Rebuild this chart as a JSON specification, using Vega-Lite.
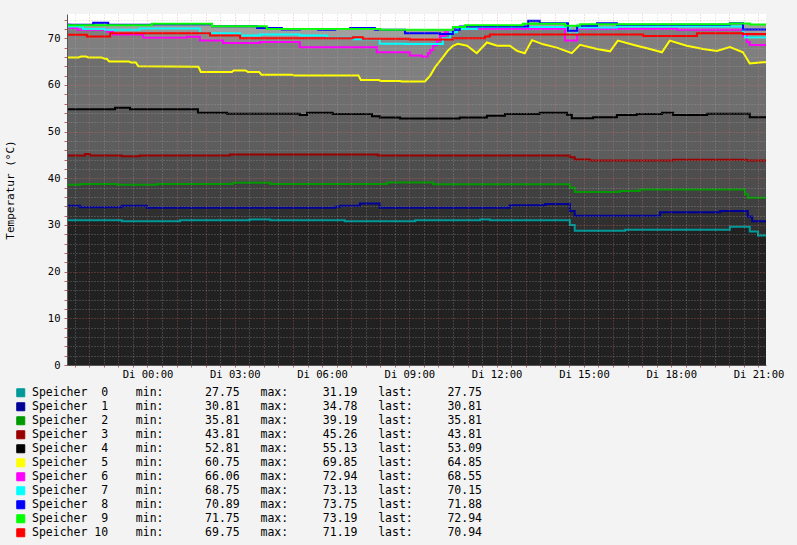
{
"$schema": "https://vega.github.io/schema/vega-lite/v6.json",
"width": 699, "height": 351,
"autosize": {"type": "none"},
"padding": {"left": 67, "top": 14, "right": 31, "bottom": 180},
"background": "#f3f3f3",
"config": {"view": {"fill": "#ffffff", "stroke": null}, "font": "DejaVu Sans Mono"},
"title": {"text": "RRDTOOL / TOBI OETIKER", "orient": "right", "anchor": "start", "frame": "group", "offset": 17, "dx": -9, "font": "DejaVu Sans Mono", "fontSize": 8.5, "fontWeight": "normal", "color": "#a8a8a8"},
"data": {"values": [
{"k":0,"t":"2023-01-02T21:14","v":31.0},{"k":0,"t":"2023-01-02T23:07","v":30.8},{"k":0,"t":"2023-01-03T01:07","v":31.0},{"k":0,"t":"2023-01-03T03:31","v":31.19},{"k":0,"t":"2023-01-03T04:13","v":31.0},{"k":0,"t":"2023-01-03T06:47","v":30.8},{"k":0,"t":"2023-01-03T09:12","v":31.0},{"k":0,"t":"2023-01-03T11:26","v":31.19},{"k":0,"t":"2023-01-03T11:46","v":31.0},{"k":0,"t":"2023-01-03T14:31","v":30.0},{"k":0,"t":"2023-01-03T14:41","v":28.75},{"k":0,"t":"2023-01-03T16:25","v":29.0},{"k":0,"t":"2023-01-03T20:01","v":29.6},{"k":0,"t":"2023-01-03T20:42","v":28.6},{"k":0,"t":"2023-01-03T20:59","v":27.75},{"k":0,"t":"2023-01-03T21:15:30","v":27.75},
{"k":1,"t":"2023-01-02T21:14","v":34.1},{"k":1,"t":"2023-01-02T21:41","v":33.8},{"k":1,"t":"2023-01-02T23:07","v":34.1},{"k":1,"t":"2023-01-02T23:59","v":33.7},{"k":1,"t":"2023-01-03T06:27","v":33.9},{"k":1,"t":"2023-01-03T06:37","v":34.1},{"k":1,"t":"2023-01-03T07:18","v":34.6},{"k":1,"t":"2023-01-03T07:59","v":33.7},{"k":1,"t":"2023-01-03T12:27","v":34.2},{"k":1,"t":"2023-01-03T13:40","v":34.5},{"k":1,"t":"2023-01-03T14:31","v":33.0},{"k":1,"t":"2023-01-03T14:41","v":32.0},{"k":1,"t":"2023-01-03T17:37","v":32.7},{"k":1,"t":"2023-01-03T19:41","v":33.0},{"k":1,"t":"2023-01-03T20:38","v":31.8},{"k":1,"t":"2023-01-03T20:47","v":30.81},{"k":1,"t":"2023-01-03T21:15:30","v":30.81},
{"k":2,"t":"2023-01-02T21:14","v":38.6},{"k":2,"t":"2023-01-02T21:41","v":38.8},{"k":2,"t":"2023-01-02T22:57","v":38.6},{"k":2,"t":"2023-01-03T00:20","v":38.8},{"k":2,"t":"2023-01-03T02:56","v":39.05},{"k":2,"t":"2023-01-03T04:13","v":38.8},{"k":2,"t":"2023-01-03T08:14","v":39.1},{"k":2,"t":"2023-01-03T09:49","v":38.7},{"k":2,"t":"2023-01-03T14:31","v":38.0},{"k":2,"t":"2023-01-03T14:41","v":37.05},{"k":2,"t":"2023-01-03T16:14","v":37.3},{"k":2,"t":"2023-01-03T16:55","v":37.6},{"k":2,"t":"2023-01-03T20:32","v":36.6},{"k":2,"t":"2023-01-03T20:38","v":35.81},{"k":2,"t":"2023-01-03T21:15:30","v":35.81},
{"k":3,"t":"2023-01-02T21:14","v":44.9},{"k":3,"t":"2023-01-02T21:51","v":45.2},{"k":3,"t":"2023-01-02T22:01","v":44.9},{"k":3,"t":"2023-01-02T23:07","v":44.7},{"k":3,"t":"2023-01-02T23:44","v":44.9},{"k":3,"t":"2023-01-03T02:50","v":45.1},{"k":3,"t":"2023-01-03T07:55","v":44.9},{"k":3,"t":"2023-01-03T14:31","v":44.5},{"k":3,"t":"2023-01-03T14:41","v":44.05},{"k":3,"t":"2023-01-03T15:12","v":43.81},{"k":3,"t":"2023-01-03T18:04","v":44.0},{"k":3,"t":"2023-01-03T20:36","v":43.81},{"k":3,"t":"2023-01-03T21:15:30","v":43.81},
{"k":4,"t":"2023-01-02T21:14","v":54.8},{"k":4,"t":"2023-01-02T22:53","v":55.1},{"k":4,"t":"2023-01-02T23:24","v":54.8},{"k":4,"t":"2023-01-03T01:44","v":54.05},{"k":4,"t":"2023-01-03T02:44","v":53.85},{"k":4,"t":"2023-01-03T05:14","v":53.55},{"k":4,"t":"2023-01-03T05:29","v":54.05},{"k":4,"t":"2023-01-03T06:22","v":53.8},{"k":4,"t":"2023-01-03T07:43","v":53.3},{"k":4,"t":"2023-01-03T07:59","v":53.0},{"k":4,"t":"2023-01-03T08:41","v":52.81},{"k":4,"t":"2023-01-03T10:44","v":53.0},{"k":4,"t":"2023-01-03T11:40","v":53.4},{"k":4,"t":"2023-01-03T12:17","v":53.8},{"k":4,"t":"2023-01-03T13:29","v":54.05},{"k":4,"t":"2023-01-03T14:25","v":53.6},{"k":4,"t":"2023-01-03T14:35","v":52.85},{"k":4,"t":"2023-01-03T15:19","v":53.1},{"k":4,"t":"2023-01-03T16:08","v":53.55},{"k":4,"t":"2023-01-03T16:49","v":53.8},{"k":4,"t":"2023-01-03T17:41","v":54.05},{"k":4,"t":"2023-01-03T18:04","v":53.55},{"k":4,"t":"2023-01-03T19:14","v":53.85},{"k":4,"t":"2023-01-03T20:42","v":53.09},{"k":4,"t":"2023-01-03T21:15:30","v":53.09},
{"k":5,"t":"2023-01-02T21:14","v":65.9},{"k":5,"t":"2023-01-02T21:38","v":65.9},{"k":5,"t":"2023-01-02T21:43","v":66.1},{"k":5,"t":"2023-01-02T21:53","v":66.1},{"k":5,"t":"2023-01-02T21:58","v":65.9},{"k":5,"t":"2023-01-02T22:25","v":65.9},{"k":5,"t":"2023-01-02T22:32","v":65.6},{"k":5,"t":"2023-01-02T22:36","v":65.6},{"k":5,"t":"2023-01-02T22:41","v":65.0},{"k":5,"t":"2023-01-02T23:22","v":65.0},{"k":5,"t":"2023-01-02T23:26","v":64.8},{"k":5,"t":"2023-01-02T23:36","v":64.8},{"k":5,"t":"2023-01-02T23:41","v":64.0},{"k":5,"t":"2023-01-03T01:45","v":63.9},{"k":5,"t":"2023-01-03T01:50","v":62.8},{"k":5,"t":"2023-01-03T02:54","v":62.8},{"k":5,"t":"2023-01-03T02:58","v":63.1},{"k":5,"t":"2023-01-03T03:22","v":63.1},{"k":5,"t":"2023-01-03T03:27","v":62.8},{"k":5,"t":"2023-01-03T03:50","v":62.8},{"k":5,"t":"2023-01-03T03:55","v":62.2},{"k":5,"t":"2023-01-03T04:58","v":62.2},{"k":5,"t":"2023-01-03T05:03","v":62.0},{"k":5,"t":"2023-01-03T07:15","v":62.0},{"k":5,"t":"2023-01-03T07:20","v":61.05},{"k":5,"t":"2023-01-03T07:57","v":61.05},{"k":5,"t":"2023-01-03T08:01","v":60.85},{"k":5,"t":"2023-01-03T08:40","v":60.85},{"k":5,"t":"2023-01-03T08:45","v":60.75},{"k":5,"t":"2023-01-03T09:32","v":60.75},{"k":5,"t":"2023-01-03T09:43","v":62.0},{"k":5,"t":"2023-01-03T09:53","v":63.8},{"k":5,"t":"2023-01-03T10:09","v":65.9},{"k":5,"t":"2023-01-03T10:19","v":67.3},{"k":5,"t":"2023-01-03T10:30","v":68.4},{"k":5,"t":"2023-01-03T10:40","v":68.8},{"k":5,"t":"2023-01-03T10:59","v":68.4},{"k":5,"t":"2023-01-03T11:19","v":66.8},{"k":5,"t":"2023-01-03T11:40","v":69.1},{"k":5,"t":"2023-01-03T12:01","v":68.4},{"k":5,"t":"2023-01-03T12:27","v":68.4},{"k":5,"t":"2023-01-03T12:42","v":67.3},{"k":5,"t":"2023-01-03T12:58","v":66.8},{"k":5,"t":"2023-01-03T13:13","v":69.6},{"k":5,"t":"2023-01-03T13:36","v":68.7},{"k":5,"t":"2023-01-03T14:04","v":68.0},{"k":5,"t":"2023-01-03T14:35","v":66.8},{"k":5,"t":"2023-01-03T14:52","v":68.6},{"k":5,"t":"2023-01-03T15:27","v":67.7},{"k":5,"t":"2023-01-03T15:54","v":67.2},{"k":5,"t":"2023-01-03T16:10","v":69.5},{"k":5,"t":"2023-01-03T16:49","v":68.4},{"k":5,"t":"2023-01-03T17:16","v":67.7},{"k":5,"t":"2023-01-03T17:41","v":67.0},{"k":5,"t":"2023-01-03T17:57","v":69.5},{"k":5,"t":"2023-01-03T18:32","v":68.4},{"k":5,"t":"2023-01-03T19:06","v":67.7},{"k":5,"t":"2023-01-03T19:34","v":67.3},{"k":5,"t":"2023-01-03T20:01","v":68.1},{"k":5,"t":"2023-01-03T20:28","v":67.0},{"k":5,"t":"2023-01-03T20:42","v":64.6},{"k":5,"t":"2023-01-03T21:09","v":64.85},{"k":5,"t":"2023-01-03T21:15:30","v":64.85},
{"k":6,"t":"2023-01-02T21:14","v":72.9},{"k":6,"t":"2023-01-02T21:20","v":72.2},{"k":6,"t":"2023-01-02T21:35","v":71.8},{"k":6,"t":"2023-01-02T22:36","v":71.4},{"k":6,"t":"2023-01-02T22:49","v":70.8},{"k":6,"t":"2023-01-02T23:51","v":70.1},{"k":6,"t":"2023-01-03T01:21","v":70.3},{"k":6,"t":"2023-01-03T01:48","v":69.5},{"k":6,"t":"2023-01-03T02:36","v":69.0},{"k":6,"t":"2023-01-03T03:52","v":69.2},{"k":6,"t":"2023-01-03T05:14","v":68.1},{"k":6,"t":"2023-01-03T07:53","v":67.0},{"k":6,"t":"2023-01-03T09:01","v":66.3},{"k":6,"t":"2023-01-03T09:26","v":66.06},{"k":6,"t":"2023-01-03T09:38","v":66.8},{"k":6,"t":"2023-01-03T09:43","v":67.5},{"k":6,"t":"2023-01-03T09:49","v":68.5},{"k":6,"t":"2023-01-03T09:57","v":69.5},{"k":6,"t":"2023-01-03T10:03","v":70.5},{"k":6,"t":"2023-01-03T10:13","v":71.3},{"k":6,"t":"2023-01-03T10:30","v":72.0},{"k":6,"t":"2023-01-03T14:21","v":69.5},{"k":6,"t":"2023-01-03T14:46","v":72.0},{"k":6,"t":"2023-01-03T18:12","v":71.8},{"k":6,"t":"2023-01-03T20:28","v":70.5},{"k":6,"t":"2023-01-03T20:36","v":69.2},{"k":6,"t":"2023-01-03T20:42","v":68.55},{"k":6,"t":"2023-01-03T21:15:30","v":68.55},
{"k":7,"t":"2023-01-02T21:14","v":72.5},{"k":7,"t":"2023-01-02T21:47","v":72.0},{"k":7,"t":"2023-01-02T22:32","v":71.8},{"k":7,"t":"2023-01-02T23:44","v":72.1},{"k":7,"t":"2023-01-03T01:48","v":71.1},{"k":7,"t":"2023-01-03T03:11","v":70.6},{"k":7,"t":"2023-01-03T03:52","v":70.8},{"k":7,"t":"2023-01-03T05:14","v":70.6},{"k":7,"t":"2023-01-03T06:10","v":70.1},{"k":7,"t":"2023-01-03T07:04","v":69.8},{"k":7,"t":"2023-01-03T07:59","v":68.8},{"k":7,"t":"2023-01-03T08:51","v":68.75},{"k":7,"t":"2023-01-03T10:09","v":70.0},{"k":7,"t":"2023-01-03T10:24","v":71.3},{"k":7,"t":"2023-01-03T10:38","v":72.0},{"k":7,"t":"2023-01-03T11:19","v":72.4},{"k":7,"t":"2023-01-03T14:31","v":70.9},{"k":7,"t":"2023-01-03T14:46","v":72.3},{"k":7,"t":"2023-01-03T16:08","v":72.5},{"k":7,"t":"2023-01-03T20:28","v":71.0},{"k":7,"t":"2023-01-03T20:32","v":70.15},{"k":7,"t":"2023-01-03T21:15:30","v":70.15},
{"k":8,"t":"2023-01-02T21:14","v":72.9},{"k":8,"t":"2023-01-02T22:08","v":73.3},{"k":8,"t":"2023-01-02T22:39","v":72.9},{"k":8,"t":"2023-01-03T00:09","v":73.0},{"k":8,"t":"2023-01-03T02:13","v":72.6},{"k":8,"t":"2023-01-03T03:46","v":72.2},{"k":8,"t":"2023-01-03T04:37","v":71.9},{"k":8,"t":"2023-01-03T05:14","v":72.0},{"k":8,"t":"2023-01-03T05:52","v":71.8},{"k":8,"t":"2023-01-03T06:27","v":72.0},{"k":8,"t":"2023-01-03T06:58","v":72.2},{"k":8,"t":"2023-01-03T07:49","v":71.8},{"k":8,"t":"2023-01-03T08:51","v":71.1},{"k":8,"t":"2023-01-03T10:03","v":70.89},{"k":8,"t":"2023-01-03T10:30","v":71.8},{"k":8,"t":"2023-01-03T10:44","v":72.5},{"k":8,"t":"2023-01-03T13:05","v":73.75},{"k":8,"t":"2023-01-03T13:29","v":73.2},{"k":8,"t":"2023-01-03T14:27","v":71.6},{"k":8,"t":"2023-01-03T14:46","v":72.7},{"k":8,"t":"2023-01-03T15:27","v":73.2},{"k":8,"t":"2023-01-03T16:08","v":72.9},{"k":8,"t":"2023-01-03T20:01","v":73.2},{"k":8,"t":"2023-01-03T20:28","v":71.88},{"k":8,"t":"2023-01-03T21:15:30","v":71.88},
{"k":9,"t":"2023-01-02T21:14","v":72.8},{"k":9,"t":"2023-01-03T00:09","v":73.1},{"k":9,"t":"2023-01-03T02:13","v":72.6},{"k":9,"t":"2023-01-03T04:06","v":72.0},{"k":9,"t":"2023-01-03T08:00","v":71.8},{"k":9,"t":"2023-01-03T10:30","v":72.4},{"k":9,"t":"2023-01-03T10:55","v":72.8},{"k":9,"t":"2023-01-03T12:54","v":73.1},{"k":9,"t":"2023-01-03T14:21","v":72.7},{"k":9,"t":"2023-01-03T14:52","v":73.0},{"k":9,"t":"2023-01-03T20:01","v":73.19},{"k":9,"t":"2023-01-03T20:42","v":72.94},{"k":9,"t":"2023-01-03T21:15:30","v":72.94},
{"k":10,"t":"2023-01-02T21:14","v":70.75},{"k":10,"t":"2023-01-02T21:55","v":70.4},{"k":10,"t":"2023-01-02T22:43","v":71.05},{"k":10,"t":"2023-01-03T02:09","v":70.6},{"k":10,"t":"2023-01-03T03:11","v":70.0},{"k":10,"t":"2023-01-03T07:04","v":70.2},{"k":10,"t":"2023-01-03T07:24","v":69.9},{"k":10,"t":"2023-01-03T09:01","v":69.75},{"k":10,"t":"2023-01-03T10:30","v":70.0},{"k":10,"t":"2023-01-03T11:36","v":70.4},{"k":10,"t":"2023-01-03T11:46","v":70.8},{"k":10,"t":"2023-01-03T17:02","v":70.5},{"k":10,"t":"2023-01-03T18:53","v":71.05},{"k":10,"t":"2023-01-03T20:28","v":70.94},{"k":10,"t":"2023-01-03T21:15:30","v":70.94}
]},
"transform": [{"lookup": "k", "from": {"data": {"values": [
{"k":0,"label":"Speicher\u00a0 0\u00a0\u00a0\u00a0\u00a0min:\u00a0\u00a0\u00a0\u00a0\u00a0\u00a027.75\u00a0\u00a0\u00a0max:\u00a0\u00a0\u00a0\u00a0\u00a031.19\u00a0\u00a0\u00a0last:\u00a0\u00a0\u00a0\u00a0\u00a027.75"},
{"k":1,"label":"Speicher\u00a0 1\u00a0\u00a0\u00a0\u00a0min:\u00a0\u00a0\u00a0\u00a0\u00a0\u00a030.81\u00a0\u00a0\u00a0max:\u00a0\u00a0\u00a0\u00a0\u00a034.78\u00a0\u00a0\u00a0last:\u00a0\u00a0\u00a0\u00a0\u00a030.81"},
{"k":2,"label":"Speicher\u00a0 2\u00a0\u00a0\u00a0\u00a0min:\u00a0\u00a0\u00a0\u00a0\u00a0\u00a035.81\u00a0\u00a0\u00a0max:\u00a0\u00a0\u00a0\u00a0\u00a039.19\u00a0\u00a0\u00a0last:\u00a0\u00a0\u00a0\u00a0\u00a035.81"},
{"k":3,"label":"Speicher\u00a0 3\u00a0\u00a0\u00a0\u00a0min:\u00a0\u00a0\u00a0\u00a0\u00a0\u00a043.81\u00a0\u00a0\u00a0max:\u00a0\u00a0\u00a0\u00a0\u00a045.26\u00a0\u00a0\u00a0last:\u00a0\u00a0\u00a0\u00a0\u00a043.81"},
{"k":4,"label":"Speicher\u00a0 4\u00a0\u00a0\u00a0\u00a0min:\u00a0\u00a0\u00a0\u00a0\u00a0\u00a052.81\u00a0\u00a0\u00a0max:\u00a0\u00a0\u00a0\u00a0\u00a055.13\u00a0\u00a0\u00a0last:\u00a0\u00a0\u00a0\u00a0\u00a053.09"},
{"k":5,"label":"Speicher\u00a0 5\u00a0\u00a0\u00a0\u00a0min:\u00a0\u00a0\u00a0\u00a0\u00a0\u00a060.75\u00a0\u00a0\u00a0max:\u00a0\u00a0\u00a0\u00a0\u00a069.85\u00a0\u00a0\u00a0last:\u00a0\u00a0\u00a0\u00a0\u00a064.85"},
{"k":6,"label":"Speicher\u00a0 6\u00a0\u00a0\u00a0\u00a0min:\u00a0\u00a0\u00a0\u00a0\u00a0\u00a066.06\u00a0\u00a0\u00a0max:\u00a0\u00a0\u00a0\u00a0\u00a072.94\u00a0\u00a0\u00a0last:\u00a0\u00a0\u00a0\u00a0\u00a068.55"},
{"k":7,"label":"Speicher\u00a0 7\u00a0\u00a0\u00a0\u00a0min:\u00a0\u00a0\u00a0\u00a0\u00a0\u00a068.75\u00a0\u00a0\u00a0max:\u00a0\u00a0\u00a0\u00a0\u00a073.13\u00a0\u00a0\u00a0last:\u00a0\u00a0\u00a0\u00a0\u00a070.15"},
{"k":8,"label":"Speicher\u00a0 8\u00a0\u00a0\u00a0\u00a0min:\u00a0\u00a0\u00a0\u00a0\u00a0\u00a070.89\u00a0\u00a0\u00a0max:\u00a0\u00a0\u00a0\u00a0\u00a073.75\u00a0\u00a0\u00a0last:\u00a0\u00a0\u00a0\u00a0\u00a071.88"},
{"k":9,"label":"Speicher\u00a0 9\u00a0\u00a0\u00a0\u00a0min:\u00a0\u00a0\u00a0\u00a0\u00a0\u00a071.75\u00a0\u00a0\u00a0max:\u00a0\u00a0\u00a0\u00a0\u00a073.19\u00a0\u00a0\u00a0last:\u00a0\u00a0\u00a0\u00a0\u00a072.94"},
{"k":10,"label":"Speicher\u00a010\u00a0\u00a0\u00a0\u00a0min:\u00a0\u00a0\u00a0\u00a0\u00a0\u00a069.75\u00a0\u00a0\u00a0max:\u00a0\u00a0\u00a0\u00a0\u00a071.19\u00a0\u00a0\u00a0last:\u00a0\u00a0\u00a0\u00a0\u00a070.94"}
]}, "key": "k", "fields": ["label"]}}],
"encoding": {
  "x": {"field": "t", "type": "temporal",
    "scale": {"nice": false},
    "axis": {"title": null, "tickCount": 48,
      "labelExpr": "(minutes(datum.value) == 0 && hours(datum.value) % 3 == 0) ? timeFormat(datum.value, 'Di %H:%M') : ''",
      "labelOverlap": false, "labelFlush": false,
      "labelFont": "DejaVu Sans Mono", "labelFontSize": 10.5, "labelColor": "#000000", "labelPadding": 2,
      "grid": true, "gridDash": [1, 2],
      "gridColor": {"condition": {"test": "minutes(datum.value) == 0", "value": "#f07070"}, "value": "#b0b0b0"},
      "gridOpacity": 0.5,
      "tickSize": 2, "tickColor": "#c06060", "domainColor": "#555555", "zindex": 1}},
  "y": {"field": "v", "type": "quantitative", "stack": null,
    "scale": {"domain": [0, 75.2], "nice": false},
    "axis": {"title": "Temperatur (°C)", "values": [0,2,4,6,8,10,12,14,16,18,20,22,24,26,28,30,32,34,36,38,40,42,44,46,48,50,52,54,56,58,60,62,64,66,68,70,72,74],
      "labelExpr": "datum.value % 10 == 0 ? datum.label : ''", "labelOverlap": false,
      "labelFont": "DejaVu Sans Mono", "labelFontSize": 10.5, "labelColor": "#000000", "labelPadding": 4,
      "titleFont": "DejaVu Sans Mono", "titleFontSize": 11, "titleFontWeight": "normal", "titleColor": "#000000", "titlePadding": 32,
      "grid": true, "gridDash": [1, 2],
      "gridColor": {"condition": {"test": "datum.value % 10 == 0", "value": "#f07070"}, "value": "#b0b0b0"},
      "gridOpacity": 0.5,
      "tickSize": 3, "tickColor": "#c06060", "domainColor": "#555555", "zindex": 1}}
},
"layer": [
  {"transform": [{"filter": "datum.k == 9"}], "mark": {"type": "area", "interpolate": "step-after", "color": "#a2a2a2"}},
  {"transform": [{"filter": "datum.k == 8"}], "mark": {"type": "area", "interpolate": "step-after", "color": "#a0a0a0"}},
  {"transform": [{"filter": "datum.k == 7"}], "mark": {"type": "area", "interpolate": "step-after", "color": "#989898"}},
  {"transform": [{"filter": "datum.k == 10"}], "mark": {"type": "area", "interpolate": "step-after", "color": "#8b8b8b"}},
  {"transform": [{"filter": "datum.k == 6"}], "mark": {"type": "area", "interpolate": "step-after", "color": "#7f7f7f"}},
  {"transform": [{"filter": "datum.k == 5"}], "mark": {"type": "area", "interpolate": "linear", "color": "#6e6e6e"}},
  {"transform": [{"filter": "datum.k == 4"}], "mark": {"type": "area", "interpolate": "step-after", "color": "#5d5d5d"}},
  {"transform": [{"filter": "datum.k == 3"}], "mark": {"type": "area", "interpolate": "step-after", "color": "#4d4d4d"}},
  {"transform": [{"filter": "datum.k == 2"}], "mark": {"type": "area", "interpolate": "step-after", "color": "#404040"}},
  {"transform": [{"filter": "datum.k == 1"}], "mark": {"type": "area", "interpolate": "step-after", "color": "#2f2f2f"}},
  {"transform": [{"filter": "datum.k == 0"}], "mark": {"type": "area", "interpolate": "step-after", "color": "#212121"}},
  {"transform": [{"filter": "datum.k == 5"}], "mark": {"type": "line", "interpolate": "linear", "strokeWidth": 2},
   "encoding": {"stroke": {"field": "label", "type": "nominal",
     "scale": {"range": ["#009999","#000099","#009900","#990000","#000000","#ffff00","#ff00ff","#00ffff","#0000ff","#00ff00","#ff0000"]},
     "legend": {"orient": "none", "legendX": -52, "legendY": 373, "direction": "vertical", "title": null,
       "symbolType": "square", "symbolSize": 64, "symbolStrokeColor": "#000000", "symbolStrokeWidth": 1,
       "labelFont": "DejaVu Sans Mono", "labelFontSize": 11.5, "labelColor": "#000000", "labelOffset": 5.5, "labelLimit": 1000,
       "rowPadding": 1, "padding": 0,
       "encode": {"symbols": {"update": {"fill": {"scale": "stroke", "field": "value"}, "fillOpacity": {"value": 1}}}}}}}},
  {"transform": [{"filter": "datum.k != 5"}], "mark": {"type": "line", "interpolate": "step-after", "strokeWidth": 2},
   "encoding": {"stroke": {"field": "label", "type": "nominal"}}}
]
}
